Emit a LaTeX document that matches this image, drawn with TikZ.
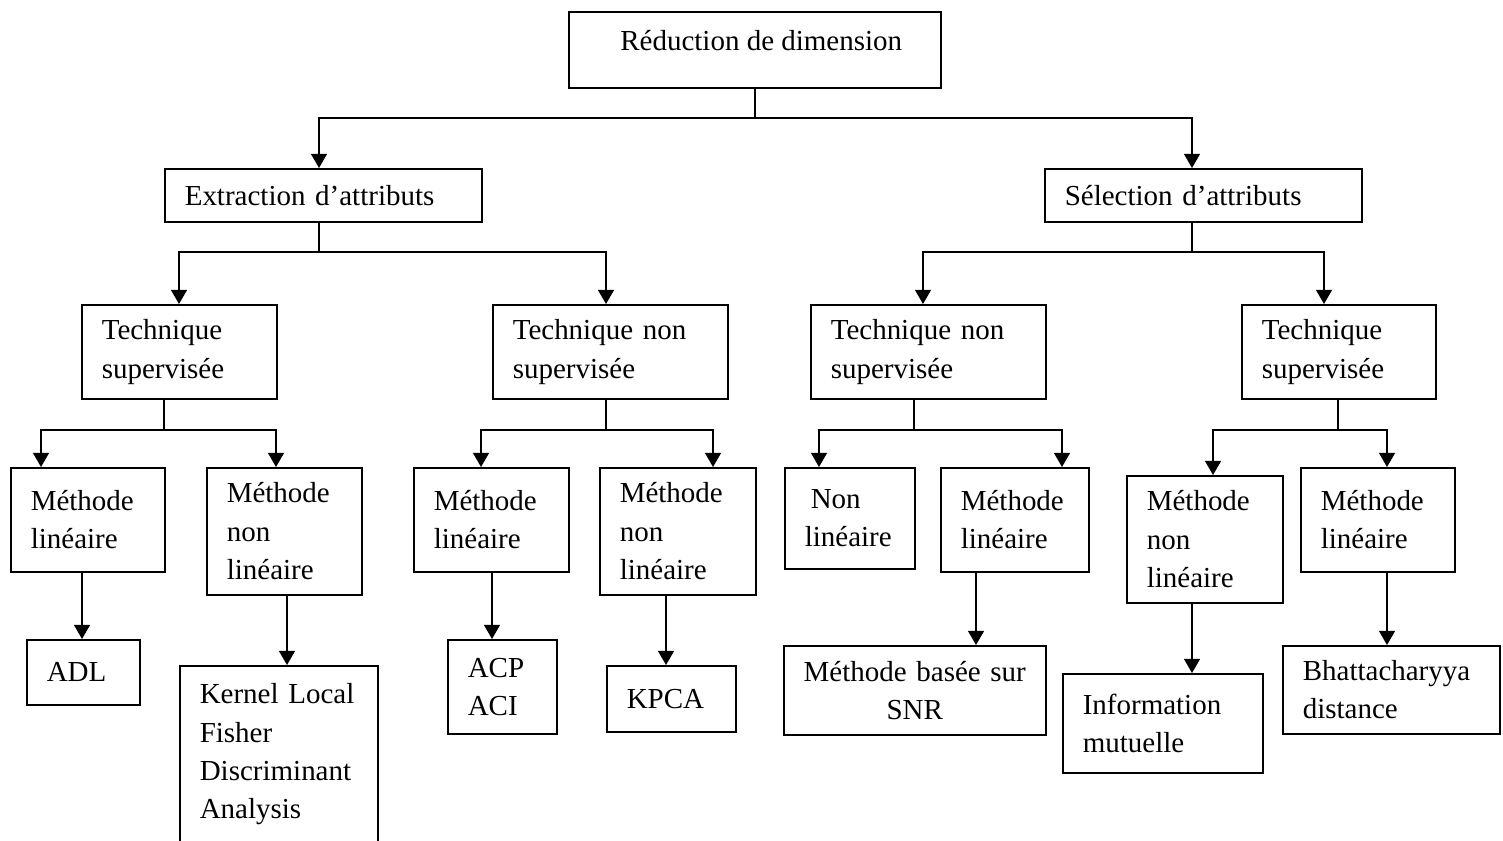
\documentclass[tikz,border=0pt]{standalone}
\usepackage{fontspec}
\setmainfont{Liberation Serif}
\usetikzlibrary{arrows.meta}

\begin{document}
\begin{tikzpicture}[
  x=0.02cm, y=-0.02cm,
  font=\fontsize{16.5pt}{21.9pt}\selectfont,
  line width=0.9pt,
  >={Triangle[length=8pt,width=9pt]},
  box/.style={draw, anchor=north west, align=left, inner xsep=0.4cm, inner ysep=0pt}
]
% 1 unit = 1px of the figure, y pointing down
\useasboundingbox (0,0) rectangle (1503,840);
\node[draw, anchor=north west, inner sep=0pt, minimum width=7.44cm, minimum height=1.52cm,
  text height=0.4cm, text depth=0.38cm] (root) at (568,11) {\hspace{0.26cm}Réduction de dimension};
\node[box, align=center, inner xsep=0.12cm, text width=5cm, minimum height=1.78cm] (snr) at (783,645) {Méthode basée sur\\SNR};
\foreach \nm/\x/\y/\w/\h/\txt in {
  ext/164/168/317/53/{Extraction d’attributs},
  sel/1044/168/317/53/{Sélection d’attributs},
  tsa/81/304/195/94/{Technique\\supervisée},
  tna/492/304/235/94/{Technique non\\supervisée},
  tnb/810/304/235/94/{Technique non\\supervisée},
  tsb/1241/304/194/94/{Technique\\supervisée},
  m1/10/467/154/104/{Méthode\\linéaire},
  m2/206/467/155/127/{Méthode\\non\\linéaire},
  m3/413/467/155/104/{Méthode\\linéaire},
  m4/599/467/156/127/{Méthode\\non\\linéaire},
  m5/784/467/130/101/{\hspace{0.12cm}Non\\linéaire},
  m6/940/467/148/104/{Méthode\\linéaire},
  m7/1126/475/156/127/{Méthode\\non\\linéaire},
  m8/1300/467/154/104/{Méthode\\linéaire},
  adl/26/639/113/65/{ADL},
  klf/179/665/198/177/{Kernel Local\\Fisher\\Discriminant\\Analysis},
  acp/447/639/109/94/{ACP\\ACI},
  kpca/606/665/129/66/{KPCA},
  info/1062/673/200/99/{Information\\mutuelle},
  bhat/1282/645/217/88/{Bhattacharyya\\distance}} {
  \pgfmathsetmacro\tw{(\w-40)*0.02}
  \pgfmathsetmacro\bh{\h*0.02}
  \node[box, text width=\tw cm, minimum height=\bh cm] (\nm) at (\x,\y) {\txt};
}
% parent/stem x/bar y/child/arrow x
\foreach \p/\s/\b/\c/\xc in {
  root/755/118/ext/319, root/755/118/sel/1192,
  ext/319/252/tsa/179, ext/319/252/tna/606,
  sel/1192/252/tnb/923, sel/1192/252/tsb/1324,
  tsa/164/430/m1/41, tsa/164/430/m2/276,
  tna/606/430/m3/481, tna/606/430/m4/713,
  tnb/914/430/m5/819, tnb/914/430/m6/1062,
  tsb/1338/430/m7/1213, tsb/1338/430/m8/1387}
  \draw[->] (\p.south -| \s,0) -- (\s,\b) -| (\c.north -| \xc,0);
\foreach \p/\c/\xc in {m1/adl/82, m2/klf/287, m3/acp/492, m4/kpca/666,
  m6/snr/976, m7/info/1192, m8/bhat/1387}
  \draw[->] (\p.south -| \xc,0) -- (\c.north -| \xc,0);
\end{tikzpicture}
\end{document}
